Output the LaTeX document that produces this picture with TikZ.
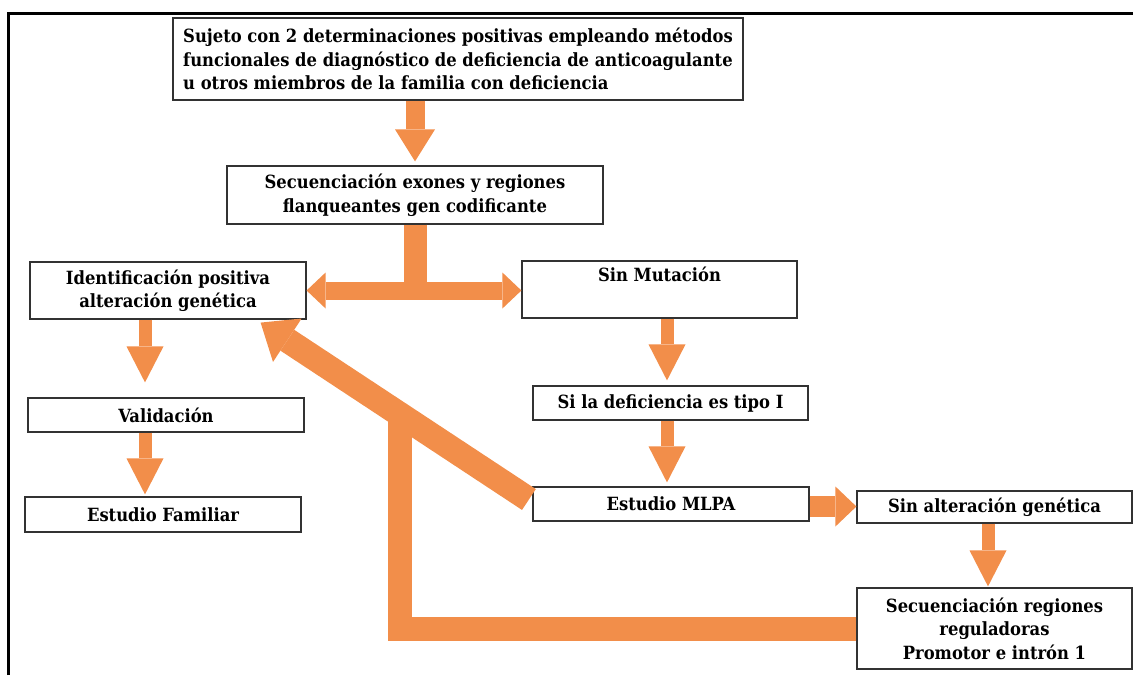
\documentclass[tikz,border=0pt]{standalone}
\usepackage{fontspec}
\setmainfont{DejaVu Serif Condensed}
\usetikzlibrary{arrows.meta}
\definecolor{flowc}{RGB}{242,142,74}
\definecolor{boxline}{RGB}{50,50,50}
\begin{document}
\begin{tikzpicture}[x=1pt,y=-1pt,
  box/.style={draw=boxline, line width=1.2pt, fill=white, inner sep=0pt, align=center,
    font=\bfseries\fontsize{18.2}{23.5}\selectfont},
  flow/.style={draw=flowc, line cap=butt, line join=miter},
  downarr/.style={flow, line width=13pt, -{Triangle[width=37pt,length=36pt,line width=0pt]}},
]
\useasboundingbox (0,0) rectangle (1133,675);
% page frame (top and left rules)
\draw[line width=3pt] (8.5,675) -- (8.5,13.3) -- (1133,13.3);

% boxes
\node[box, minimum width=570pt, minimum height=82pt, align=left] (top) at (458,59)
  {Sujeto con 2 determinaciones positivas empleando métodos\\
   funcionales de diagnóstico de deficiencia de anticoagulante\\
   u otros miembros de la familia con deficiencia};
\node[box, minimum width=376pt, minimum height=58pt] (seq) at (415,195)
  {Secuenciación exones y regiones\\ flanqueantes gen codificante};
\node[box, minimum width=276pt, minimum height=57pt] (ident) at (168,290.5)
  {Identificación positiva\\ alteración genética};
\node[box, minimum width=275pt, minimum height=57pt] (sinmut) at (659.5,289.5)
  {Sin Mutación\\ \strut};
\node[box, minimum width=276pt, minimum height=34pt] (valid) at (166,415) {Validación};
\node[box, minimum width=276pt, minimum height=35pt] (famil) at (163,514.5) {Estudio Familiar};
\node[box, minimum width=275pt, minimum height=34pt] (tipo) at (670.5,403) {Si la deficiencia es tipo I};
\node[box, minimum width=276pt, minimum height=34pt] (mlpa) at (671,504) {Estudio MLPA};
\node[box, minimum width=275pt, minimum height=32pt] (sinalt) at (994.5,507) {Sin alteración genética};
\node[box, minimum width=275pt, minimum height=81pt] (secreg) at (994.5,628.5)
  {Secuenciación regiones\\ reguladoras\\ Promotor e intrón 1};

% top box to sequencing
\draw[flow, line width=19pt, -{Triangle[width=40pt,length=32pt,line width=0pt]}, shorten >=4pt]
  (seq.north |- top.south) -- (seq.north);
% sequencing splits into both outcomes
\draw[flow, line width=23pt] (seq.south) -- (seq.south |- ident.east);
\draw[flow, line width=18pt,
  {Triangle[width=36pt,length=19pt,line width=0pt]}-{Triangle[width=36pt,length=19pt,line width=0pt]}]
  (ident.east) -- (ident.east -| sinmut.west);
% left column
\draw[downarr, shorten >=15pt] ([xshift=-23pt]ident.south) -- ([xshift=-23pt]ident.south |- valid.north);
\draw[downarr, shorten >=2pt] ([xshift=-21pt]valid.south) -- ([xshift=-21pt]valid.south |- famil.north);
% right column
\draw[downarr, shorten >=5pt] ([xshift=7.5pt]sinmut.south) -- ([xshift=7.5pt]sinmut.south |- tipo.north);
\draw[downarr, shorten >=4pt] ([xshift=-3.5pt]tipo.south) -- ([xshift=-3.5pt]tipo.south |- mlpa.north);
\draw[flow, line width=21pt, -{Triangle[width=40pt,length=21pt,line width=0pt]}]
  ([yshift=-2.5pt]mlpa.east) -- ([yshift=-2.5pt]mlpa.east -| sinalt.west);
\draw[downarr, shorten >=1pt] ([xshift=-6.5pt]sinalt.south) -- ([xshift=-6.5pt]sinalt.south |- secreg.north);
% return path from regulatory sequencing
\coordinate (j) at (400,415);
\draw[flow, line width=24pt] (secreg.west) -- (secreg.west -| j) -- (j);
\draw[flow, line width=25pt, -{Triangle[width=52pt,length=32pt,line width=0pt]}]
  ([xshift=-3.5pt,yshift=4.5pt]mlpa.west) -- ([xshift=-46pt,yshift=-3pt]ident.south east);
\end{tikzpicture}
\end{document}
